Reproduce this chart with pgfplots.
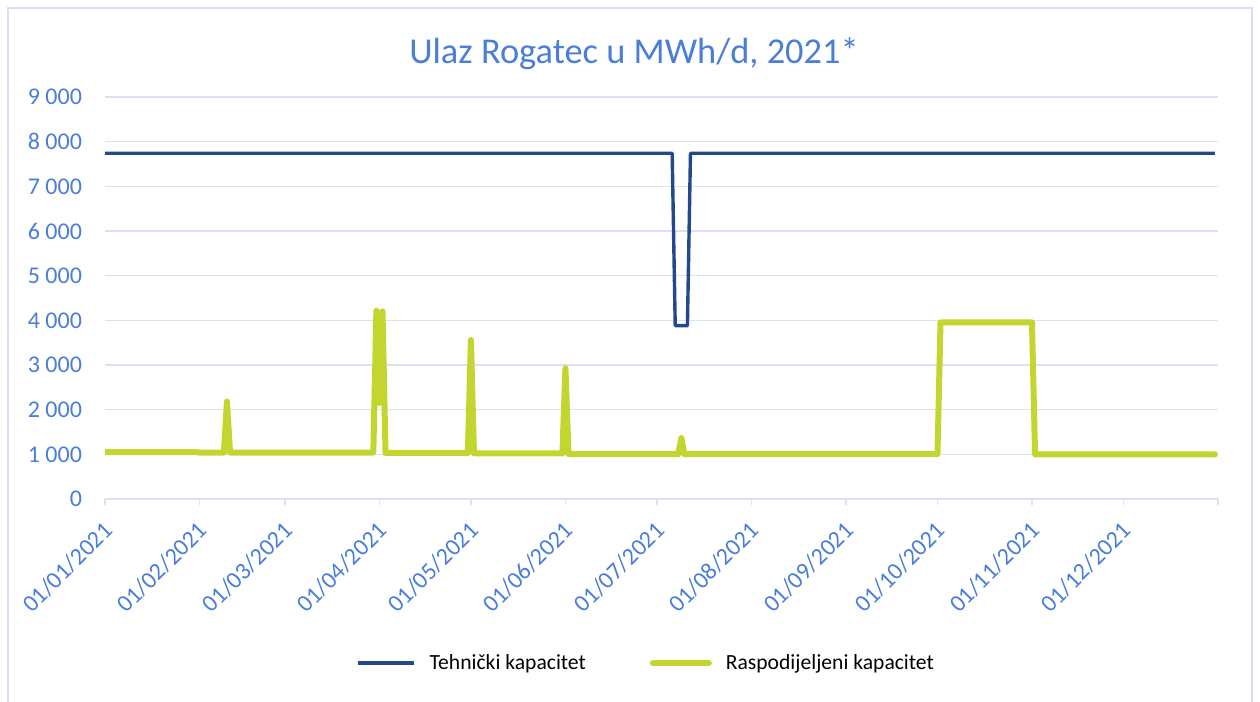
\documentclass[border=0pt]{standalone}
\usepackage{pgfplots}
\pgfplotsset{compat=1.18}
\usepackage{fontspec}
\setmainfont{Carlito}
\definecolor{txtblue}{HTML}{4A7ED8}
\definecolor{gridblue}{HTML}{D9E2F3}
\definecolor{techblue}{HTML}{23498C}
\definecolor{limeg}{HTML}{C3D630}
\definecolor{frameblue}{HTML}{D6E0F2}
\begin{document}
\begin{tikzpicture}
\path[use as bounding box] (0pt,0pt) rectangle (630pt,351pt);
\draw[frameblue, line width=0.8pt] (4pt,-2pt) -- (4pt,347pt) -- (626pt,347pt) -- (626pt,-2pt);
\node[text=txtblue, font=\fontsize{18.2}{22}\selectfont] at (317pt,324pt) {Ulaz Rogatec u MWh/d, 2021*};
\begin{axis}[
  at={(52.5pt,101.5pt)}, anchor=south west,
  scale only axis, width=556.5pt, height=201pt,
  xmin=0, xmax=365, ymin=0, ymax=9000,
  axis x line*=bottom, axis y line*=left,
  x axis line style={gridblue, line width=0.9pt, -},
  y axis line style={draw=none},
  xtick={0,31,59,90,120,151,181,212,243,273,304,334,365},
  xticklabels={01/01/2021,01/02/2021,01/03/2021,01/04/2021,01/05/2021,01/06/2021,01/07/2021,01/08/2021,01/09/2021,01/10/2021,01/11/2021,01/12/2021,{}},
  ytick={0,1000,2000,3000,4000,5000,6000,7000,8000,9000},
  yticklabels={0,1 000,2 000,3 000,4 000,5 000,6 000,7 000,8 000,9 000},
  tick align=outside, major tick length=3pt,
  xtick style={gridblue, line width=0.9pt},
  ytick style={draw=none},
  ymajorgrids, grid style={gridblue, line width=0.8pt},
  xticklabel style={font=\fontsize{12}{14}\selectfont, text=txtblue, xshift=4.2pt, yshift=-8.2pt, rotate=45, anchor=east},
  yticklabel style={font=\fontsize{12}{14}\selectfont, text=txtblue, xshift=-5pt},
  legend columns=2,
  legend style={draw=none, fill=none, at={(0.487,-0.408)}, anchor=center,
    font=\fontsize{10.8}{12}\selectfont, text=black,
    /tikz/every even column/.append style={column sep=30pt}},
  legend cell align=left,
  legend image code/.code={\draw[#1] (0pt,0pt) -- (28pt,0pt); \path (33pt,0pt);},
]
\addplot[techblue, line width=1.7pt, line join=round] coordinates {
(0,7740) (186,7740) (187,3880) (191,3880) (192,7740) (364,7740)
};
\addlegendentry{Tehnički kapacitet}
\addplot[limeg, line width=3pt, line join=round, line cap=round] coordinates {
(0,1050) (30,1050) (31,1040) (39,1040) (40,2180) (41,1040) (88,1040)
(89,4215) (90,2150) (91,4200) (92,1030) (119,1030) (120,3560) (121,1020)
(150,1020) (151,2925) (152,1005) (188,1005) (189,1365) (190,1005)
(273,1005) (274,3955) (304,3955) (305,1000) (364,1000)
};
\addlegendentry{Raspodijeljeni kapacitet}
\end{axis}
\end{tikzpicture}
\end{document}
